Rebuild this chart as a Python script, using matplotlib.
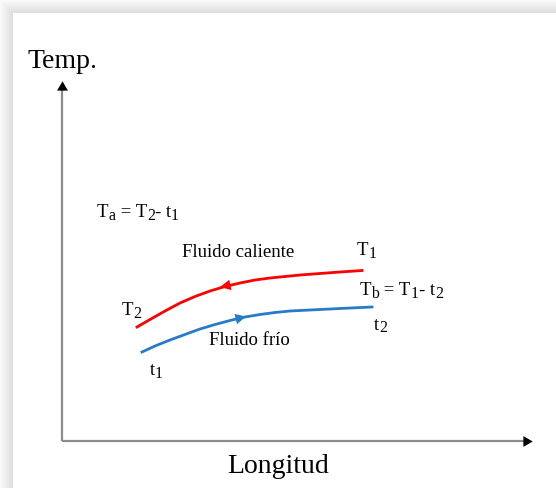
import numpy as np
import matplotlib.pyplot as plt

plt.rcParams['font.family'] = ['Liberation Serif', 'DejaVu Serif']

# curves (x = length, y = temperature, arbitrary units)
hot_x = [75, 88, 103, 118, 133, 148, 163, 178, 193, 208, 223, 238, 258, 278, 300]
hot_y = [114, 121.5, 130, 138, 144.5, 150, 154.5, 158, 161, 163, 164.5, 166, 167.5, 169, 170.5]
cold_x = [80, 93, 108, 123, 138, 153, 168, 183, 198, 213, 228, 248, 278, 310]
cold_y = [89, 95, 101, 106.5, 112, 116.5, 120.5, 124, 126.5, 128.5, 130, 131, 132.5, 134]

fig = plt.figure(figsize=(5.56, 4.88), dpi=100)
renderer = fig.canvas.get_renderer()

# card background with a soft shadow on top/left
bg = fig.add_axes([0, 0, 1, 1])
bg.set_xlim(0, 556)
bg.set_ylim(488, 0)
bg.axis('off')
yy, xx = np.mgrid[0:488, 0:556]
d = np.maximum(13 - xx, 13 - yy).clip(0, 13) / 13.0
shade = np.where(d > 0, 0.86 + 0.12 * d, 1.0)
bg.imshow(shade, cmap='gray', vmin=0, vmax=1, extent=(0, 556, 488, 0), aspect='auto')

ax = fig.add_axes([0, 0, 1, 1], facecolor='none')
ax.set_xlim(-62, 494)
ax.set_ylim(-47, 441)
ax.axis('off')


def sub_text(x, y, parts, size=13.5):
    # parts: list of (text, is_subscript); draws pieces one after another
    dx = 0.0
    for s, is_sub in parts:
        fsz = size * 0.85 if is_sub else size
        dy = -1.8 if is_sub else 0
        t = ax.annotate(s, xy=(x, y), xytext=(dx, dy), textcoords='offset points',
                        fontsize=fsz, va='baseline', ha='left')
        w = t.get_window_extent(renderer).width
        dx += w * 72.0 / fig.dpi


# axes: gray lines with black heads
ax.plot([0, 462], [0, 0], color='#8c8c8c', lw=1.6, solid_capstyle='butt')
ax.plot([0, 0], [0, 352], color='#8c8c8c', lw=1.6, solid_capstyle='butt')
ax.plot([464], [0], marker=(3, 0, -90), color='black', ms=9, mew=0)
ax.plot([0], [354], marker=(3, 0, 0), color='black', ms=9, mew=0)

ax.plot(hot_x, hot_y, color='#ff0000', lw=2)
ax.plot(cold_x, cold_y, color='#2a7bc6', lw=2)

# flow direction arrows
ax.annotate('', xy=(hot_x[9] - 50, hot_y[9] - 9), xytext=(hot_x[9] - 40, hot_y[9] - 7),
            arrowprops=dict(arrowstyle='-|>', color='#ff0000', lw=0,
                            mutation_scale=19, shrinkA=0, shrinkB=0))
ax.annotate('', xy=(cold_x[6] + 16, cold_y[6] + 4), xytext=(cold_x[6] + 6, cold_y[6] + 1.5),
            arrowprops=dict(arrowstyle='-|>', color='#2a7bc6', lw=0,
                            mutation_scale=19, shrinkA=0, shrinkB=0))

ax.text(-35, 373, 'Temp.', fontsize=20, va='baseline', ha='left')
ax.text(216, -32, 'Longitud', fontsize=20, va='baseline', ha='center')

sub_text(35, 224, [('T', False), ('a', True), (' = T', False), ('2', True),
                   ('- t', False), ('1', True)])
ax.text(120, 184, 'Fluido caliente', fontsize=13.5, va='baseline')
sub_text(295, 186, [('T', False), ('1', True)])
sub_text(298, 146, [('T', False), ('b', True), (' = T', False), ('1', True),
                    ('- t', False), ('2', True)])
sub_text(60, 126, [('T', False), ('2', True)])
sub_text(312, 111, [('t', False), ('2', True)])
ax.text(147, 96, 'Fluido frío', fontsize=13.5, va='baseline')
sub_text(88, 66, [('t', False), ('1', True)])

fig.savefig('out.png', dpi=100)
